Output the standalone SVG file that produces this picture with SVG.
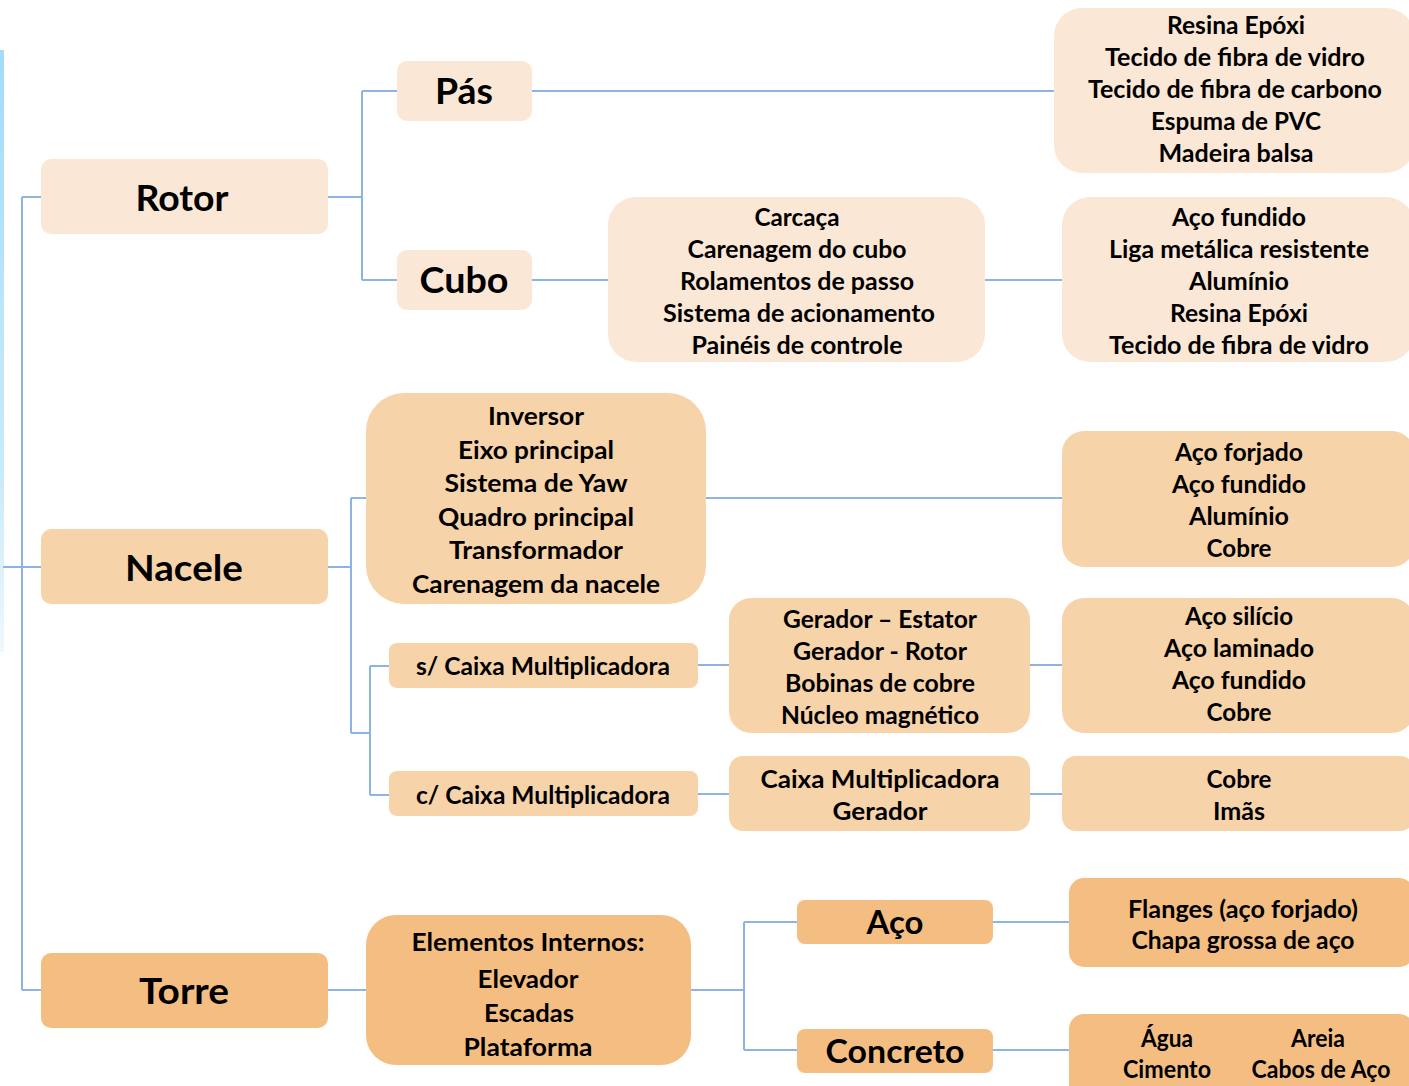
<svg xmlns="http://www.w3.org/2000/svg" width="1409" height="1086" viewBox="0 0 1409 1086">
<defs>
<linearGradient id="strip" x1="0" y1="0" x2="0" y2="1">
<stop offset="0" stop-color="#A3DCF8"/>
<stop offset="0.7" stop-color="#C9EAFA"/>
<stop offset="1" stop-color="#EEF8FD"/>
</linearGradient>
</defs>
<style>
.c{fill:none;stroke:#8DB3E2;stroke-width:2}
.l1{fill:#FBE7D5}
.l2{fill:#F7D3AA}
.l3{fill:#F4BE82}
text{font-family:Lato,"Liberation Sans",sans-serif;font-weight:bold;fill:#000;text-anchor:middle}
.b{font-size:37px}
.m{font-size:32px}
.s{font-size:24px}
</style>
<rect width="1409" height="1086" fill="#FFFFFF"/>
<rect x="0" y="50" width="4" height="602" fill="url(#strip)"/>

<g id="connectors">
<path class="c" d="M3,567H41M22,197V990M22,197H41M22,990H41"/>
<path class="c" d="M328,197H362M362,91V280M362,91H397M362,280H397"/>
<path class="c" d="M532,91H1054"/>
<path class="c" d="M532,280H608M985,280H1062"/>
<path class="c" d="M328,567H351M351,498V733M351,498H366M351,733H370M370,666V795M370,666H389M370,795H389"/>
<path class="c" d="M706,498H1062"/>
<path class="c" d="M698,665H729M1030,665H1062"/>
<path class="c" d="M698,794H729M1030,794H1062"/>
<path class="c" d="M328,990H366"/>
<path class="c" d="M691,990H744M744,922V1050M744,922H797M744,1050H797"/>
<path class="c" d="M993,922H1069M993,1050H1069"/>
</g>

<g id="rotor">
<rect class="l1" x="41" y="159" width="287" height="75" rx="10"/>
<text class="b" x="182" y="211" textLength="93" lengthAdjust="spacingAndGlyphs">Rotor</text>
</g>
<g id="pas">
<rect class="l1" x="397" y="61" width="135" height="60" rx="10"/>
<text class="b" x="464" y="104" textLength="58" lengthAdjust="spacingAndGlyphs">Pás</text>
</g>
<g id="cubo">
<rect class="l1" x="397" y="250" width="135" height="60" rx="10"/>
<text class="b" x="464" y="293" textLength="89" lengthAdjust="spacingAndGlyphs">Cubo</text>
</g>
<g id="pas-materiais">
<rect class="l1" x="1054" y="8" width="360" height="165" rx="28"/>
<text class="s" x="1236" y="34" textLength="138" lengthAdjust="spacingAndGlyphs">Resina Epóxi</text>
<text class="s" x="1235" y="66" textLength="260" lengthAdjust="spacingAndGlyphs">Tecido de fibra de vidro</text>
<text class="s" x="1235" y="98" textLength="294" lengthAdjust="spacingAndGlyphs">Tecido de fibra de carbono</text>
<text class="s" x="1236" y="130" textLength="170" lengthAdjust="spacingAndGlyphs">Espuma de PVC</text>
<text class="s" x="1236" y="162" textLength="155" lengthAdjust="spacingAndGlyphs">Madeira balsa</text>
</g>
<g id="cubo-componentes">
<rect class="l1" x="608" y="197" width="377" height="165" rx="28"/>
<text class="s" x="797" y="226" textLength="85" lengthAdjust="spacingAndGlyphs">Carcaça</text>
<text class="s" x="797" y="258" textLength="219" lengthAdjust="spacingAndGlyphs">Carenagem do cubo</text>
<text class="s" x="797" y="290" textLength="234" lengthAdjust="spacingAndGlyphs">Rolamentos de passo</text>
<text class="s" x="799" y="322" textLength="272" lengthAdjust="spacingAndGlyphs">Sistema de acionamento</text>
<text class="s" x="797" y="354" textLength="211" lengthAdjust="spacingAndGlyphs">Painéis de controle</text>
</g>
<g id="cubo-materiais">
<rect class="l1" x="1062" y="197" width="352" height="165" rx="28"/>
<text class="s" x="1239" y="226" textLength="134" lengthAdjust="spacingAndGlyphs">Aço fundido</text>
<text class="s" x="1239" y="258" textLength="260" lengthAdjust="spacingAndGlyphs">Liga metálica resistente</text>
<text class="s" x="1239" y="290" textLength="100" lengthAdjust="spacingAndGlyphs">Alumínio</text>
<text class="s" x="1239" y="322" textLength="138" lengthAdjust="spacingAndGlyphs">Resina Epóxi</text>
<text class="s" x="1239" y="354" textLength="260" lengthAdjust="spacingAndGlyphs">Tecido de fibra de vidro</text>
</g>

<g id="nacele">
<rect class="l2" x="41" y="529" width="287" height="75" rx="10"/>
<text class="b" x="184" y="581" textLength="118" lengthAdjust="spacingAndGlyphs">Nacele</text>
</g>
<g id="nacele-componentes">
<rect class="l2" x="366" y="393" width="340" height="211" rx="38"/>
<text class="s" x="536" y="425" textLength="96" lengthAdjust="spacingAndGlyphs">Inversor</text>
<text class="s" x="536" y="459" textLength="156" lengthAdjust="spacingAndGlyphs">Eixo principal</text>
<text class="s" x="536" y="492" textLength="183" lengthAdjust="spacingAndGlyphs">Sistema de Yaw</text>
<text class="s" x="536" y="526" textLength="196" lengthAdjust="spacingAndGlyphs">Quadro principal</text>
<text class="s" x="536" y="559" textLength="174" lengthAdjust="spacingAndGlyphs">Transformador</text>
<text class="s" x="536" y="593" textLength="248" lengthAdjust="spacingAndGlyphs">Carenagem da nacele</text>
</g>
<g id="nacele-materiais">
<rect class="l2" x="1062" y="431" width="352" height="136" rx="22"/>
<text class="s" x="1239" y="461" textLength="128" lengthAdjust="spacingAndGlyphs">Aço forjado</text>
<text class="s" x="1239" y="493" textLength="134" lengthAdjust="spacingAndGlyphs">Aço fundido</text>
<text class="s" x="1239" y="525" textLength="100" lengthAdjust="spacingAndGlyphs">Alumínio</text>
<text class="s" x="1239" y="557" textLength="65" lengthAdjust="spacingAndGlyphs">Cobre</text>
</g>
<g id="sem-caixa">
<rect class="l2" x="389" y="643" width="309" height="45" rx="8"/>
<text class="s" x="543" y="675" textLength="254" lengthAdjust="spacingAndGlyphs">s/ Caixa Multiplicadora</text>
</g>
<g id="gerador-componentes">
<rect class="l2" x="729" y="598" width="301" height="135" rx="22"/>
<text class="s" x="880" y="628" textLength="194" lengthAdjust="spacingAndGlyphs">Gerador – Estator</text>
<text class="s" x="880" y="660" textLength="174" lengthAdjust="spacingAndGlyphs">Gerador - Rotor</text>
<text class="s" x="880" y="692" textLength="190" lengthAdjust="spacingAndGlyphs">Bobinas de cobre</text>
<text class="s" x="880" y="724" textLength="198" lengthAdjust="spacingAndGlyphs">Núcleo magnético</text>
</g>
<g id="gerador-materiais">
<rect class="l2" x="1062" y="598" width="352" height="135" rx="22"/>
<text class="s" x="1239" y="625" textLength="108" lengthAdjust="spacingAndGlyphs">Aço silício</text>
<text class="s" x="1239" y="657" textLength="150" lengthAdjust="spacingAndGlyphs">Aço laminado</text>
<text class="s" x="1239" y="689" textLength="134" lengthAdjust="spacingAndGlyphs">Aço fundido</text>
<text class="s" x="1239" y="721" textLength="65" lengthAdjust="spacingAndGlyphs">Cobre</text>
</g>
<g id="com-caixa">
<rect class="l2" x="389" y="771" width="309" height="45" rx="8"/>
<text class="s" x="543" y="804" textLength="254" lengthAdjust="spacingAndGlyphs">c/ Caixa Multiplicadora</text>
</g>
<g id="caixa-componentes">
<rect class="l2" x="729" y="756" width="301" height="75" rx="14"/>
<text class="s" x="880" y="788" textLength="239" lengthAdjust="spacingAndGlyphs">Caixa Multiplicadora</text>
<text class="s" x="880" y="820" textLength="95" lengthAdjust="spacingAndGlyphs">Gerador</text>
</g>
<g id="caixa-materiais">
<rect class="l2" x="1062" y="756" width="352" height="75" rx="14"/>
<text class="s" x="1239" y="788" textLength="65" lengthAdjust="spacingAndGlyphs">Cobre</text>
<text class="s" x="1239" y="820" textLength="52" lengthAdjust="spacingAndGlyphs">Imãs</text>
</g>

<g id="torre">
<rect class="l3" x="41" y="953" width="287" height="75" rx="10"/>
<text class="b" x="184" y="1004" textLength="90" lengthAdjust="spacingAndGlyphs">Torre</text>
</g>
<g id="torre-elementos">
<rect class="l3" x="366" y="915" width="325" height="150" rx="30"/>
<text class="s" x="528" y="951" textLength="233" lengthAdjust="spacingAndGlyphs">Elementos Internos:</text>
<text class="s" x="528" y="988" textLength="101" lengthAdjust="spacingAndGlyphs">Elevador</text>
<text class="s" x="529" y="1022" textLength="90" lengthAdjust="spacingAndGlyphs">Escadas</text>
<text class="s" x="528" y="1056" textLength="129" lengthAdjust="spacingAndGlyphs">Plataforma</text>
</g>
<g id="aco">
<rect class="l3" x="797" y="900" width="196" height="44" rx="8"/>
<text class="m" x="895" y="934" textLength="57" lengthAdjust="spacingAndGlyphs">Aço</text>
</g>
<g id="concreto">
<rect class="l3" x="797" y="1029" width="196" height="44" rx="8"/>
<text class="m" x="895" y="1063" textLength="139" lengthAdjust="spacingAndGlyphs">Concreto</text>
</g>
<g id="aco-materiais">
<rect class="l3" x="1069" y="878" width="345" height="89" rx="15"/>
<text class="s" x="1243" y="918" textLength="230" lengthAdjust="spacingAndGlyphs">Flanges (aço forjado)</text>
<text class="s" x="1243" y="949" textLength="223" lengthAdjust="spacingAndGlyphs">Chapa grossa de aço</text>
</g>
<g id="concreto-materiais">
<rect class="l3" x="1069" y="1014" width="345" height="90" rx="15"/>
<text class="s" x="1167" y="1047" textLength="52" lengthAdjust="spacingAndGlyphs">Água</text>
<text class="s" x="1318" y="1047" textLength="54" lengthAdjust="spacingAndGlyphs">Areia</text>
<text class="s" x="1167" y="1078" textLength="88" lengthAdjust="spacingAndGlyphs">Cimento</text>
<text class="s" x="1321" y="1078" textLength="139" lengthAdjust="spacingAndGlyphs">Cabos de Aço</text>
</g>
</svg>
